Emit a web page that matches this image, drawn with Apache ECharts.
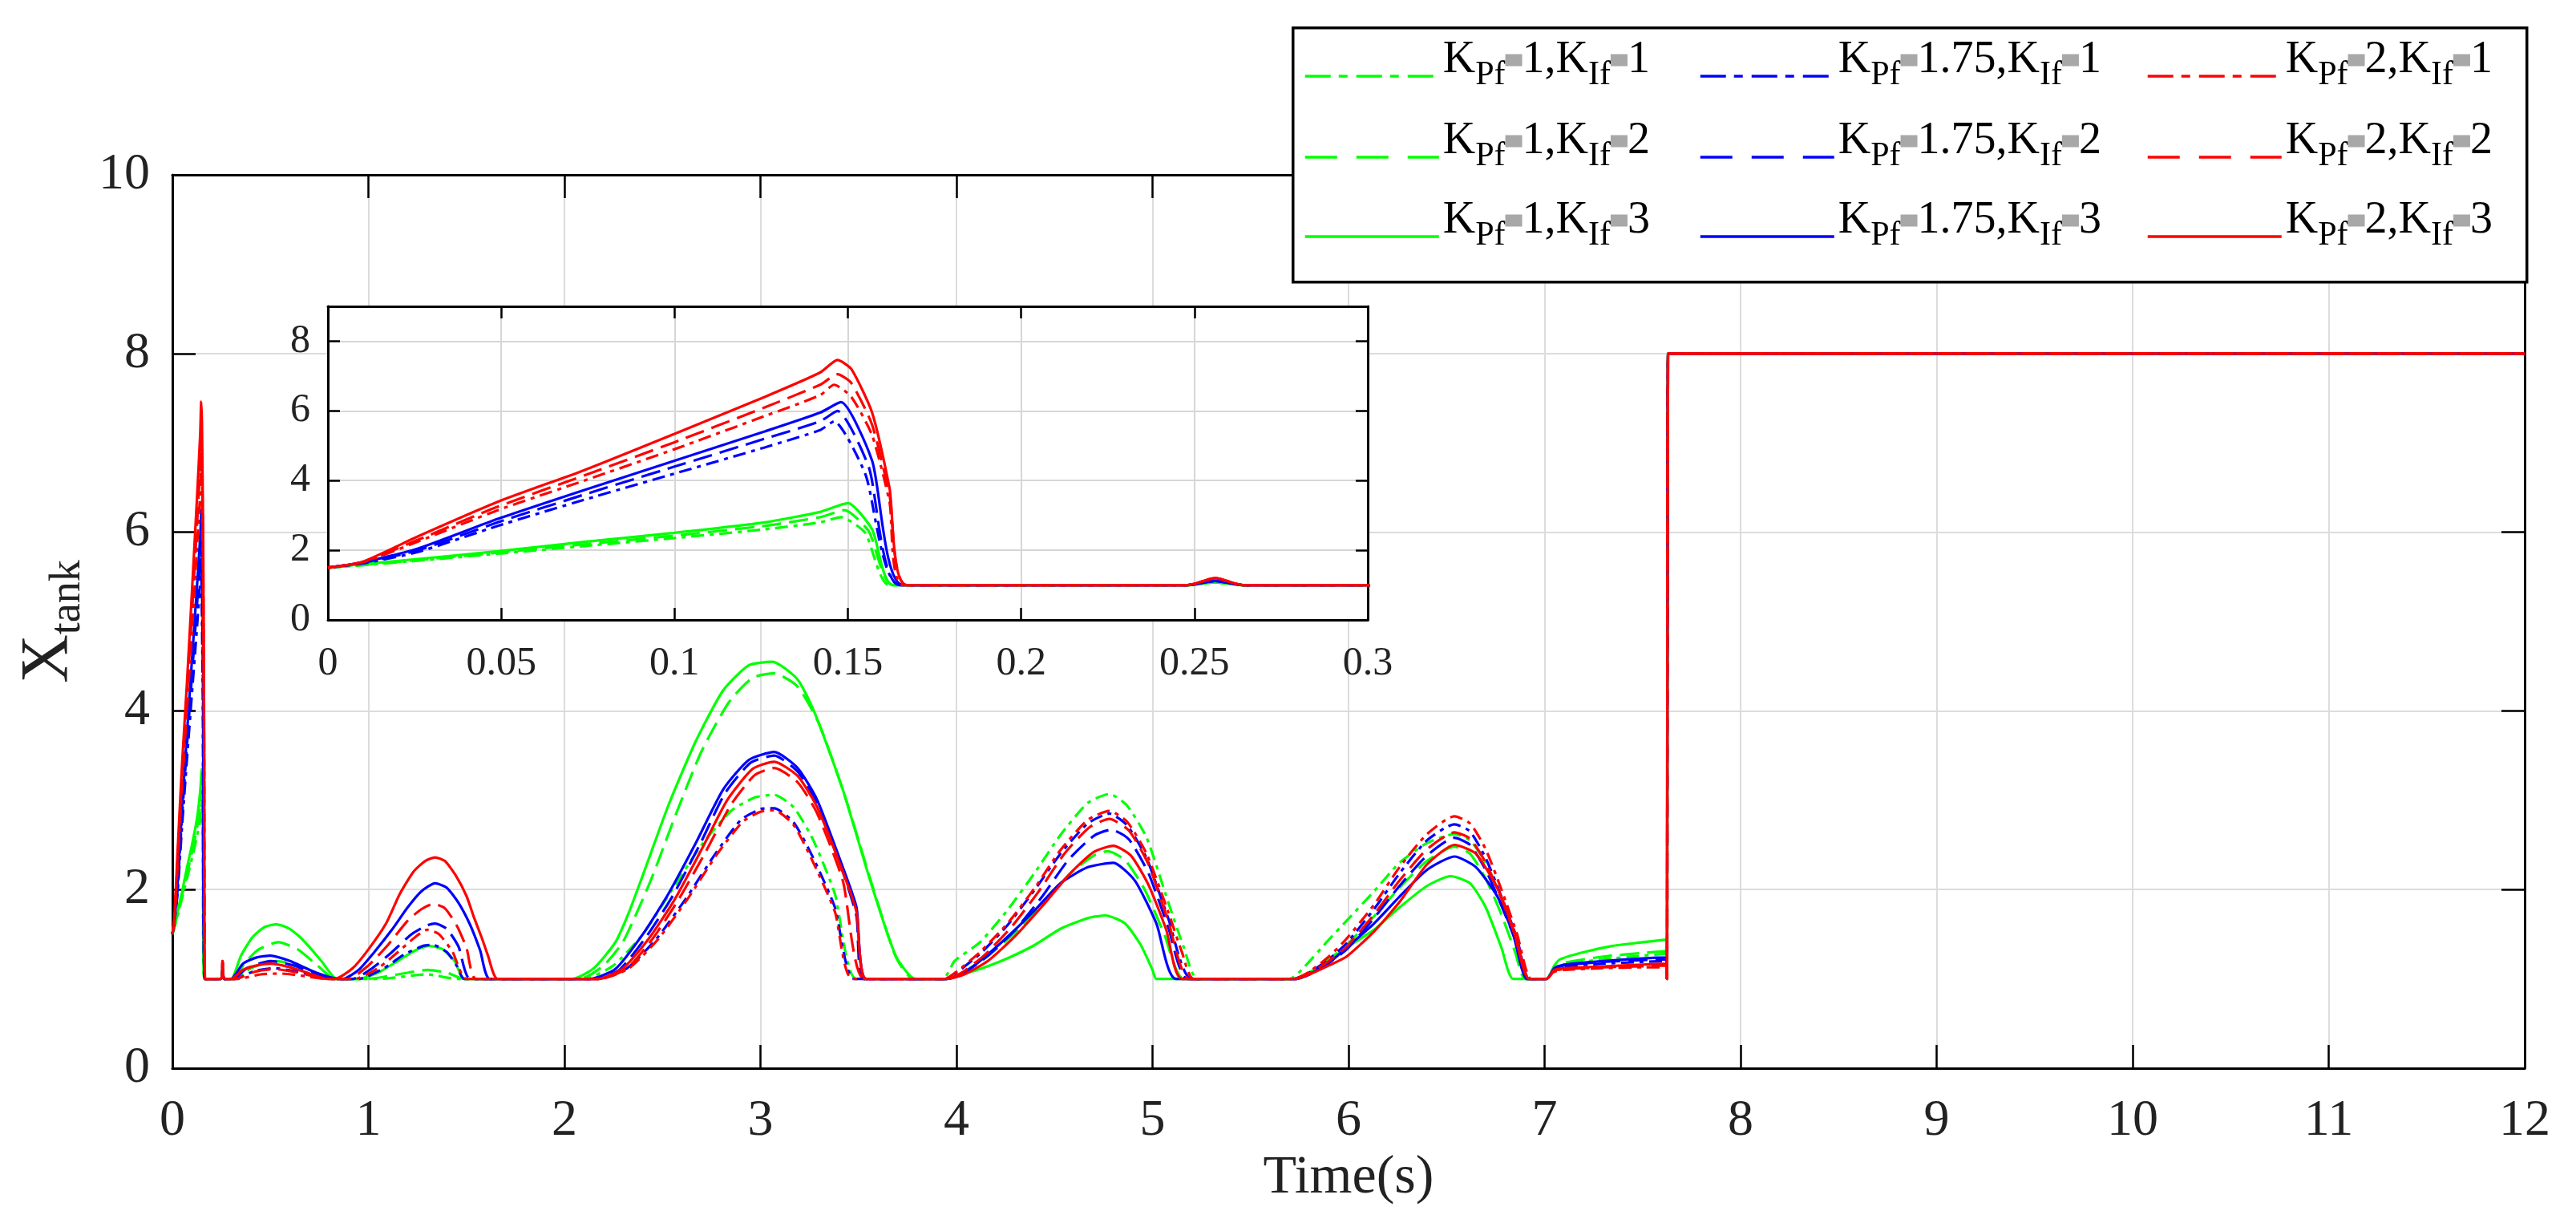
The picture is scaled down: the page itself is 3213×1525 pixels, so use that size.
<!DOCTYPE html>
<html>
<head>
<meta charset="utf-8">
<title>Xtank response</title>
<script src="https://cdn.jsdelivr.net/npm/echarts@6.0.0/dist/echarts.min.js"></script>
<style>
  html, body { margin: 0; padding: 0; background: #fff; }
  #chart { width: 3213px; height: 1525px; }
</style>
</head>
<body>
<div id="chart"></div>
<script>
// gains shown in the legend
const KPF = ['1', '1.75', '2']
const KIF = ['1', '2', '3']

// Xtank traces, [time (s), value]
const g1 = [[0,1.5],[0.01,1.57],[0.026,1.7],[0.049,1.9],[0.074,2.12],[0.1,2.35],[0.126,2.6],[0.142,2.8],[0.148,2.95],[0.155,2.5],[0.162,1],
  [0.248,1],[0.256,1.08],[0.264,1],
  [0.32,1],[0.4,1.12],[0.53,1.2],[0.66,1.14],[0.82,1],
  [1.05,1],[1.3,1.05],[1.45,1],
  [2.1,1],[2.25,1.15],[2.4,1.5],[2.55,2.0],[2.7,2.5],[2.85,2.88],[2.97,3.03],[3.07,3.06],[3.17,2.92],[3.27,2.55],[3.38,1.95],[3.49,1],
  [3.93,1],[3.99,1.2],[4.12,1.41],[4.26,1.77],[4.4,2.19],[4.53,2.61],[4.67,2.97],[4.78,3.07],[4.87,2.94],[4.97,2.58],[5.08,1.86],[5.16,1.35],[5.23,1],
  [5.7,1],[5.76,1.1],[5.9,1.44],[5.99,1.65],[6.13,1.98],[6.26,2.3],[6.4,2.52],[6.54,2.62],[6.62,2.55],[6.7,2.3],[6.78,1.9],[6.85,1.45],[6.91,1],
  [7.01,1],[7.05,1.12],[7.1,1.16],[7.3,1.22],[7.5,1.26],[7.62,1.28],[7.625,1],[7.63,8],[12,8]]

const g2 = [[0,1.5],[0.01,1.58],[0.026,1.72],[0.049,1.93],[0.074,2.17],[0.1,2.42],[0.126,2.7],[0.142,2.95],[0.149,3.15],[0.156,2.55],[0.163,1],
  [0.248,1],[0.256,1.08],[0.264,1],
  [0.31,1],[0.37,1.18],[0.44,1.33],[0.54,1.41],[0.64,1.33],[0.74,1.15],[0.83,1],
  [1.0,1],[1.15,1.05],[1.3,1.1],[1.4,1.07],[1.49,1],
  [2.08,1],[2.2,1.15],[2.3,1.42],[2.44,2.1],[2.57,2.85],[2.7,3.55],[2.84,4.1],[2.96,4.37],[3.07,4.42],[3.19,4.27],[3.3,3.85],[3.43,3.05],[3.57,2.05],[3.69,1.25],[3.78,1],
  [3.94,1],[4.03,1.07],[4.15,1.24],[4.3,1.52],[4.44,1.85],[4.58,2.18],[4.7,2.38],[4.77,2.43],[4.86,2.33],[4.96,2.0],[5.06,1.5],[5.16,1],
  [5.72,1],[5.8,1.07],[5.9,1.22],[5.99,1.38],[6.13,1.7],[6.26,2.02],[6.4,2.32],[6.54,2.48],[6.62,2.4],[6.7,2.12],[6.78,1.72],[6.85,1.3],[6.9,1],
  [7.01,1],[7.05,1.12],[7.1,1.18],[7.3,1.25],[7.5,1.29],[7.62,1.31],[7.625,1],[7.63,8],[12,8]]

const g3 = [[0,1.5],[0.01,1.6],[0.026,1.75],[0.049,1.97],[0.074,2.24],[0.1,2.5],[0.126,2.8],[0.142,3.1],[0.15,3.35],[0.157,2.6],[0.163,1],
  [0.248,1],[0.256,1.08],[0.264,1],
  [0.3,1],[0.35,1.26],[0.41,1.47],[0.47,1.58],[0.53,1.61],[0.59,1.57],[0.65,1.47],[0.71,1.33],[0.76,1.2],[0.84,1],
  [0.95,1],[1.05,1.07],[1.15,1.2],[1.24,1.32],[1.31,1.37],[1.38,1.33],[1.44,1.2],[1.49,1],
  [2.04,1],[2.15,1.12],[2.26,1.41],[2.33,1.75],[2.4,2.16],[2.53,2.94],[2.67,3.66],[2.81,4.23],[2.94,4.51],[3.06,4.55],[3.19,4.35],[3.28,3.96],[3.42,3.12],[3.56,2.1],[3.69,1.26],[3.79,1],
  [3.95,1],[4.03,1.05],[4.12,1.11],[4.26,1.23],[4.4,1.38],[4.53,1.56],[4.67,1.68],[4.76,1.71],[4.86,1.62],[4.94,1.38],[5.0,1.1],[5.02,1],
  [5.72,1],[5.8,1.07],[5.9,1.2],[5.99,1.35],[6.13,1.55],[6.26,1.8],[6.4,2.04],[6.52,2.15],[6.62,2.07],[6.7,1.8],[6.78,1.35],[6.84,1],
  [7.01,1],[7.05,1.15],[7.08,1.22],[7.2,1.3],[7.35,1.37],[7.5,1.41],[7.62,1.44],[7.625,1],[7.63,8],[12,8]]

const b1 = [[0,1.5],[0.01,1.62],[0.026,1.95],[0.049,2.7],[0.074,3.45],[0.1,4.2],[0.126,4.95],[0.142,5.45],[0.146,5.7],[0.155,4.2],[0.165,1],
  [0.248,1],[0.256,1.12],[0.264,1],
  [0.32,1],[0.42,1.09],[0.52,1.12],[0.64,1.08],[0.8,1],
  [0.95,1],[1.08,1.12],[1.18,1.27],[1.28,1.37],[1.33,1.38],[1.4,1.3],[1.45,1.15],[1.49,1],
  [2.17,1],[2.32,1.12],[2.47,1.45],[2.62,1.9],[2.77,2.4],[2.9,2.78],[3.0,2.9],[3.07,2.91],[3.17,2.75],[3.27,2.35],[3.38,1.8],[3.48,1],
  [3.94,1],[4.0,1.07],[4.12,1.28],[4.26,1.6],[4.4,2.0],[4.53,2.4],[4.67,2.74],[4.78,2.85],[4.87,2.72],[4.97,2.35],[5.08,1.68],[5.2,1],
  [5.72,1],[5.8,1.07],[5.9,1.22],[5.99,1.4],[6.13,1.78],[6.26,2.18],[6.4,2.55],[6.54,2.73],[6.62,2.65],[6.7,2.35],[6.78,1.92],[6.86,1.45],[6.92,1],
  [7.01,1],[7.05,1.1],[7.1,1.14],[7.3,1.17],[7.5,1.19],[7.62,1.2],[7.625,1],[7.63,8],[12,8]]

const b2 = [[0,1.5],[0.01,1.64],[0.026,2.0],[0.049,2.8],[0.074,3.6],[0.1,4.4],[0.126,5.2],[0.142,5.7],[0.147,6.0],[0.156,4.4],[0.165,1],
  [0.248,1],[0.256,1.12],[0.264,1],
  [0.31,1],[0.38,1.12],[0.5,1.2],[0.62,1.15],[0.72,1.06],[0.8,1],
  [0.92,1],[1.02,1.12],[1.12,1.3],[1.22,1.5],[1.3,1.6],[1.34,1.62],[1.4,1.56],[1.46,1.36],[1.52,1],
  [2.15,1],[2.28,1.1],[2.42,1.48],[2.55,1.92],[2.69,2.5],[2.82,3.08],[2.95,3.42],[3.07,3.5],[3.19,3.32],[3.29,2.95],[3.42,2.2],[3.49,1.7],[3.53,1],
  [3.95,1],[4.03,1.06],[4.15,1.24],[4.3,1.55],[4.44,1.93],[4.57,2.33],[4.7,2.6],[4.79,2.67],[4.88,2.56],[4.98,2.18],[5.08,1.58],[5.18,1],
  [5.73,1],[5.8,1.05],[5.9,1.18],[5.99,1.33],[6.13,1.68],[6.26,2.04],[6.4,2.38],[6.54,2.58],[6.62,2.5],[6.7,2.22],[6.78,1.82],[6.86,1.38],[6.91,1],
  [7.01,1],[7.05,1.11],[7.1,1.15],[7.3,1.19],[7.5,1.21],[7.62,1.22],[7.625,1],[7.63,8],[12,8]]

const b3 = [[0,1.5],[0.01,1.65],[0.026,2.05],[0.049,2.9],[0.074,3.73],[0.1,4.57],[0.126,5.41],[0.142,5.95],[0.148,6.25],[0.157,4.57],[0.166,1],
  [0.248,1],[0.256,1.12],[0.264,1],
  [0.3,1],[0.36,1.17],[0.43,1.24],[0.5,1.26],[0.6,1.2],[0.7,1.1],[0.8,1.02],[0.86,1],
  [0.87,1],[0.95,1.1],[1.03,1.3],[1.12,1.55],[1.2,1.8],[1.27,1.98],[1.34,2.07],[1.4,2.02],[1.46,1.85],[1.52,1.6],[1.57,1.32],[1.62,1],
  [2.13,1],[2.26,1.11],[2.4,1.5],[2.53,1.95],[2.67,2.52],[2.81,3.12],[2.94,3.45],[3.07,3.54],[3.19,3.36],[3.29,3.0],[3.42,2.25],[3.49,1.8],[3.54,1],
  [3.95,1],[4.02,1.04],[4.12,1.2],[4.26,1.47],[4.4,1.77],[4.53,2.07],[4.67,2.25],[4.8,2.3],[4.91,2.1],[5.02,1.62],[5.12,1],
  [5.73,1],[5.8,1.05],[5.9,1.18],[5.99,1.35],[6.13,1.62],[6.26,1.92],[6.4,2.22],[6.54,2.37],[6.65,2.25],[6.76,1.92],[6.84,1.5],[6.91,1],
  [7.01,1],[7.05,1.12],[7.1,1.16],[7.3,1.2],[7.5,1.23],[7.62,1.24],[7.625,1],[7.63,8],[12,8]]

const r1 = [[0,1.5],[0.01,1.65],[0.026,2.25],[0.049,3.15],[0.074,4.0],[0.1,4.9],[0.126,5.85],[0.142,6.45],[0.146,6.75],[0.151,6.4],[0.157,5.3],[0.162,3.4],[0.166,1],
  [0.248,1],[0.256,1.2],[0.264,1],
  [0.33,1],[0.45,1.05],[0.55,1.06],[0.68,1.03],[0.78,1],
  [0.93,1],[1.05,1.12],[1.15,1.3],[1.24,1.47],[1.3,1.55],[1.36,1.5],[1.43,1.3],[1.5,1],
  [2.18,1],[2.33,1.12],[2.48,1.45],[2.63,1.9],[2.78,2.4],[2.91,2.76],[3.0,2.87],[3.07,2.89],[3.17,2.72],[3.27,2.3],[3.38,1.75],[3.47,1],
  [3.94,1],[4.0,1.08],[4.12,1.3],[4.26,1.62],[4.4,2.02],[4.53,2.44],[4.67,2.78],[4.78,2.88],[4.87,2.76],[4.97,2.4],[5.08,1.75],[5.15,1.3],[5.21,1],
  [5.72,1],[5.8,1.08],[5.9,1.25],[5.99,1.45],[6.13,1.83],[6.26,2.25],[6.4,2.62],[6.54,2.82],[6.62,2.74],[6.7,2.45],[6.78,2.0],[6.86,1.5],[6.93,1],
  [7.01,1],[7.05,1.08],[7.1,1.1],[7.3,1.12],[7.5,1.13],[7.62,1.13],[7.625,1],[7.63,8],[12,8]]

const r2 = [[0,1.5],[0.01,1.66],[0.026,2.3],[0.049,3.25],[0.074,4.15],[0.1,5.1],[0.126,6.1],[0.142,6.75],[0.147,7.05],[0.151,6.8],[0.157,5.6],[0.162,3.6],[0.167,1],
  [0.248,1],[0.256,1.2],[0.264,1],
  [0.32,1],[0.42,1.08],[0.52,1.11],[0.64,1.07],[0.8,1],
  [0.9,1],[1.0,1.15],[1.1,1.38],[1.2,1.65],[1.27,1.78],[1.33,1.84],[1.39,1.79],[1.45,1.6],[1.5,1.35],[1.55,1],
  [2.18,1],[2.32,1.12],[2.45,1.45],[2.58,1.88],[2.72,2.42],[2.85,2.95],[2.97,3.28],[3.07,3.36],[3.19,3.2],[3.29,2.85],[3.42,2.1],[3.53,1],
  [3.95,1],[4.02,1.06],[4.14,1.26],[4.28,1.58],[4.42,1.98],[4.55,2.4],[4.68,2.7],[4.78,2.79],[4.88,2.66],[4.98,2.28],[5.08,1.65],[5.19,1],
  [5.73,1],[5.8,1.06],[5.9,1.2],[5.99,1.36],[6.13,1.72],[6.26,2.1],[6.4,2.45],[6.54,2.64],[6.62,2.57],[6.7,2.3],[6.78,1.9],[6.86,1.42],[6.92,1],
  [7.01,1],[7.05,1.09],[7.1,1.11],[7.3,1.13],[7.5,1.14],[7.62,1.15],[7.625,1],[7.63,8],[12,8]]

const r3 = [[0,1.5],[0.01,1.67],[0.026,2.4],[0.049,3.39],[0.074,4.3],[0.1,5.34],[0.126,6.4],[0.142,7.1],[0.147,7.46],[0.151,7.2],[0.157,5.95],[0.162,3.8],[0.167,1],
  [0.248,1],[0.256,1.2],[0.264,1],
  [0.3,1],[0.36,1.1],[0.43,1.15],[0.5,1.17],[0.6,1.13],[0.7,1.06],[0.79,1],
  [0.83,1],[0.92,1.12],[1.0,1.33],[1.09,1.62],[1.16,1.95],[1.23,2.2],[1.29,2.32],[1.34,2.36],[1.39,2.32],[1.445,2.16],[1.5,1.93],[1.54,1.68],[1.58,1.45],[1.61,1.26],[1.66,1],
  [2.17,1],[2.3,1.12],[2.43,1.45],[2.56,1.88],[2.7,2.45],[2.83,3.0],[2.96,3.35],[3.07,3.43],[3.19,3.27],[3.29,2.92],[3.42,2.2],[3.49,1.75],[3.54,1],
  [3.95,1],[4.04,1.05],[4.16,1.2],[4.3,1.48],[4.44,1.82],[4.58,2.18],[4.7,2.42],[4.8,2.49],[4.89,2.38],[4.98,2.05],[5.07,1.55],[5.15,1],
  [5.73,1],[5.8,1.05],[5.9,1.15],[5.99,1.25],[6.13,1.53],[6.26,1.86],[6.4,2.28],[6.54,2.5],[6.65,2.4],[6.76,2.01],[6.84,1.56],[6.92,1],
  [7.01,1],[7.05,1.1],[7.1,1.12],[7.3,1.14],[7.5,1.16],[7.62,1.17],[7.625,1],[7.63,8],[12,8]]

const FONT = 'Liberation Serif'
const COLORS = ['#00ff00', '#0000ff', '#ff0000']
// line patterns per KIf row: dash-dot, dashed, solid
const PLOT_DASH = [[16, 7, 5, 7], [24, 10], 'solid']
const LEGEND_DASH = [[32, 10, 11, 11], [40, 24], 'solid']
const LEGEND_X = [1626, 2119, 2677]
const LEGEND_Y = [92, 193, 292]

const TRACES = [[g1, g2, g3], [b1, b2, b3], [r1, r2, r3]]

const seriesName = (p, i) => `KPf=${KPF[p]},KIf=${KIF[i]}`

// K_Pf=1,K_If=1 written with rich-text subscripts
const legendLabel = (name) => {
  const [a, b] = name.split(',')
  const p = a.split('=')[1]
  const i = b.split('=')[1]
  return `{k|K}{s|Pf}{e|=}{k|${p},K}{s|If}{e|=}{k|${i}}`
}

const axisLine = { show: true, onZero: false, lineStyle: { color: '#000', width: 3 } }
const tick = (len) => ({ show: true, inside: true, length: len, lineStyle: { color: '#000', width: 2.5 } })
const label = (size, margin) => ({ fontSize: size, fontFamily: FONT, color: '#222', margin })
const grid = (color) => ({ show: true, lineStyle: { color, width: 2 } })

const series = []
const legends = []
TRACES.forEach((group, p) => {
  group.forEach((data, i) => {
    const name = seriesName(p, i)
    const lineStyle = { color: COLORS[p], width: 3.2, type: PLOT_DASH[i] }
    series.push({ name, type: 'line', data, xAxisIndex: 0, yAxisIndex: 0, symbol: 'none',
      smooth: 0.2, color: COLORS[p], lineStyle, z: 2 })
    series.push({ name, type: 'line', data, xAxisIndex: 2, yAxisIndex: 2, symbol: 'none',
      smooth: 0.2, color: COLORS[p], lineStyle, z: 7 })
    // text block is taller than the icon, so the box top sits above the line sample
    legends.push({
      data: [name],
      left: LEGEND_X[p],
      top: LEGEND_Y[i] - 45,
      padding: 0,
      itemWidth: 167,
      itemHeight: 20,
      selectedMode: false,
      z: 21,
      itemStyle: { opacity: 0, borderWidth: 0 },
      lineStyle: { color: COLORS[p], type: LEGEND_DASH[i], width: 3.5 },
      formatter: legendLabel,
      textStyle: {
        fontFamily: FONT, color: '#000', fontSize: 56, padding: [0, 0, 40, 0],
        rich: {
          k: { fontFamily: FONT, fontSize: 56, color: '#000', lineHeight: 80 },
          s: { fontFamily: FONT, fontSize: 42, color: '#000', lineHeight: 20, verticalAlign: 'bottom' },
          e: { fontSize: 14, color: '#a8a8a8', backgroundColor: '#a8a8a8', width: 21, height: 15, lineHeight: 15, verticalAlign: 'middle' }
        }
      }
    })
  })
})

const chart = echarts.init(document.getElementById('chart'))
chart.setOption({
  animation: false,
  backgroundColor: '#fff',
  grid: [
    { left: 215, top: 218, width: 2934, height: 1114, show: false },
    { left: 409, top: 382, width: 1297, height: 391, show: true, backgroundColor: '#fff', borderWidth: 0, z: 5 }
  ],
  xAxis: [
    { gridIndex: 0, type: 'value', min: 0, max: 12, interval: 1, position: 'bottom',
      axisLine, axisTick: tick(29), axisLabel: label(64, 34), splitLine: grid('#dcdcdc'),
      name: 'Time(s)', nameLocation: 'middle', nameGap: 92,
      nameTextStyle: { fontSize: 68, fontFamily: FONT, color: '#222' } },
    { gridIndex: 0, type: 'value', min: 0, max: 12, interval: 1, position: 'top',
      axisLine, axisTick: tick(29), axisLabel: { show: false }, splitLine: { show: false } },
    { gridIndex: 1, type: 'value', min: 0, max: 0.3, interval: 0.05, position: 'bottom', z: 6,
      axisLine, axisTick: tick(15), axisLabel: label(50, 30), splitLine: grid('#d6d6d6') },
    { gridIndex: 1, type: 'value', min: 0, max: 0.3, interval: 0.05, position: 'top', z: 6,
      axisLine, axisTick: tick(15), axisLabel: { show: false }, splitLine: { show: false } }
  ],
  yAxis: [
    { gridIndex: 0, type: 'value', min: 0, max: 10, interval: 2, position: 'left',
      axisLine, axisTick: tick(29), axisLabel: label(64, 28), splitLine: grid('#dcdcdc'),
      name: '{a|X}{b|tank}', nameLocation: 'middle', nameGap: 100,
      nameTextStyle: { rich: {
        a: { fontFamily: FONT, fontSize: 84, color: '#222', lineHeight: 100 },
        b: { fontFamily: FONT, fontSize: 54, color: '#222', lineHeight: 30, verticalAlign: 'bottom' }
      } } },
    { gridIndex: 0, type: 'value', min: 0, max: 10, interval: 2, position: 'right',
      axisLine, axisTick: tick(29), axisLabel: { show: false }, splitLine: { show: false } },
    { gridIndex: 1, type: 'value', min: 0, max: 9, interval: 2, position: 'left', z: 6,
      axisLine, axisTick: tick(15),
      axisLabel: { ...label(50, 22), formatter: (v) => (v % 2 === 0 ? String(v) : '') },
      splitLine: grid('#d6d6d6') },
    { gridIndex: 1, type: 'value', min: 0, max: 9, interval: 2, position: 'right', z: 6,
      axisLine, axisTick: tick(15), axisLabel: { show: false }, splitLine: { show: false } }
  ],
  graphic: [
    { type: 'rect', left: 1611, top: 33, z: 20,
      shape: { width: 1539, height: 317 },
      style: { fill: '#fff', stroke: '#000', lineWidth: 3.5 } }
  ],
  legend: legends,
  series
})
</script>
</body>
</html>
